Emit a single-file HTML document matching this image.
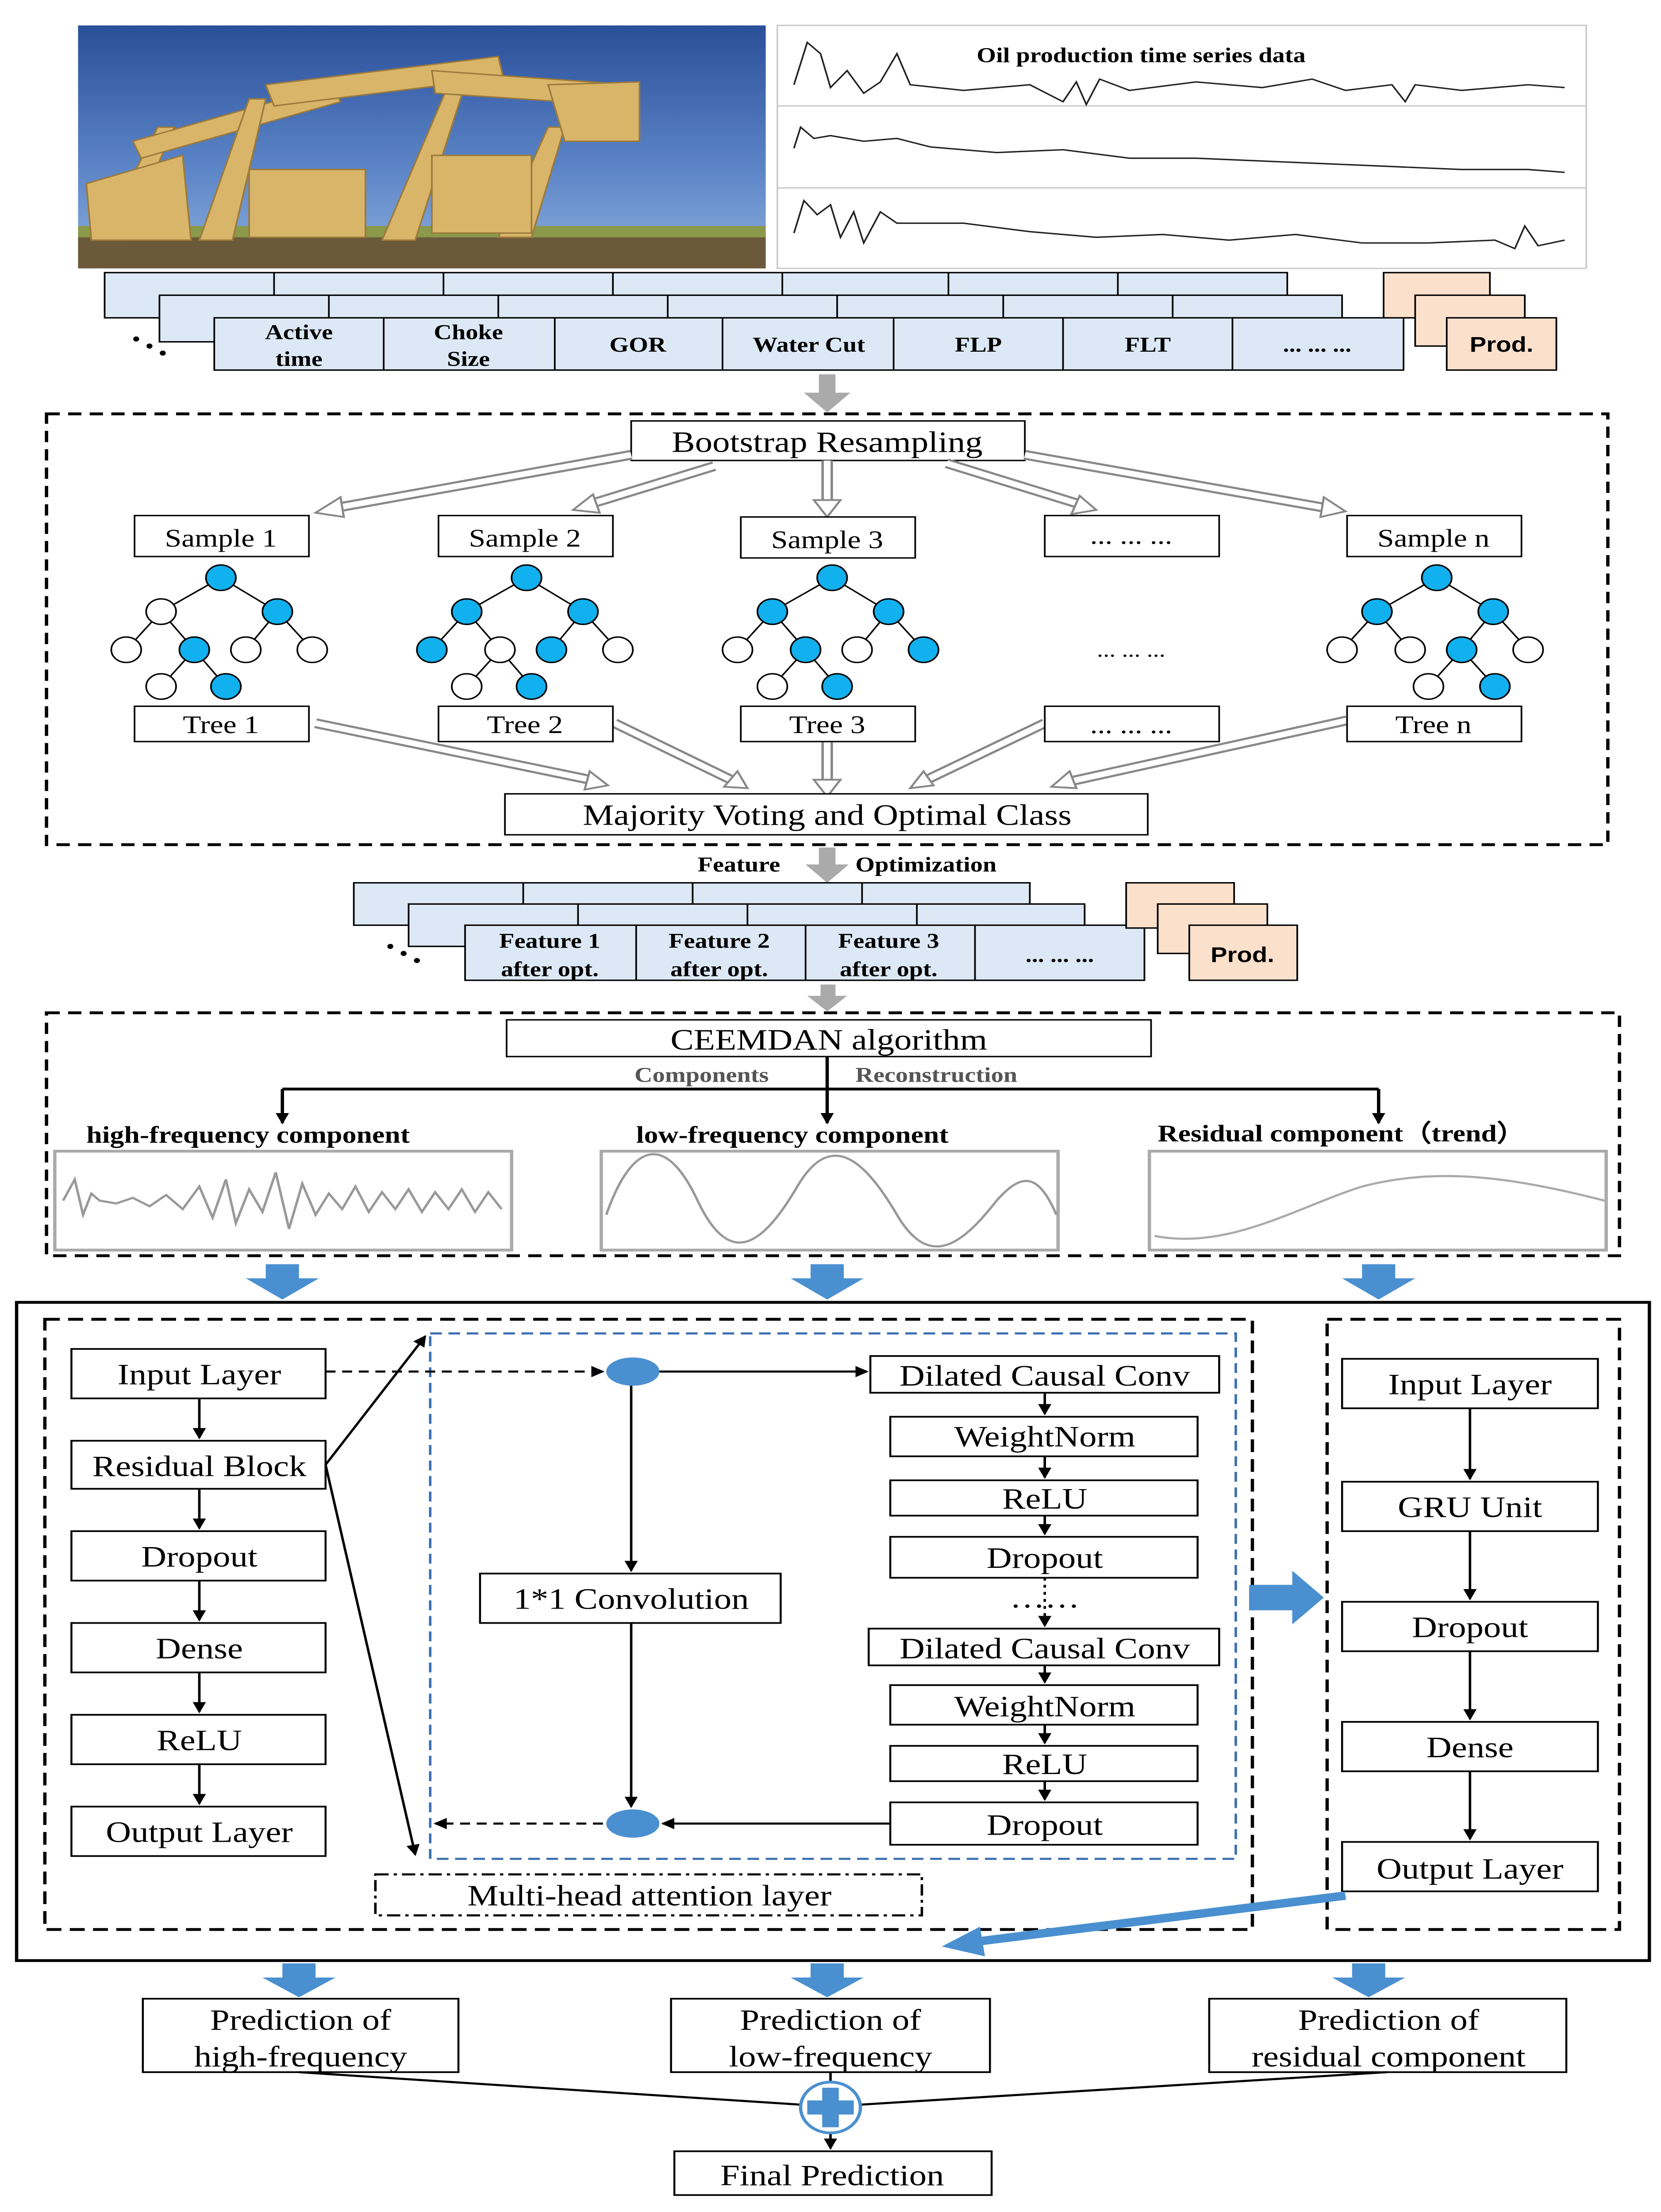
<!DOCTYPE html>
<html><head><meta charset="utf-8"><style>
html,body{margin:0;padding:0;background:#fff;width:100vw;height:100vh;overflow:hidden}
svg{display:block;position:absolute;left:0;top:0;width:100vw;height:100vh}
text{font-family:"Liberation Serif",serif;fill:#000}
.b{font-weight:bold}
</style></head><body>
<svg viewBox="0 0 1000 1566" preserveAspectRatio="none" xmlns="http://www.w3.org/2000/svg">
<defs>
<marker id="ah" markerWidth="8" markerHeight="8" refX="7" refY="4" orient="auto" markerUnits="userSpaceOnUse"><path d="M0,0 L8,4 L0,8 z" fill="#000"/></marker>
<linearGradient id="sky" x1="0" y1="0" x2="0" y2="1"><stop offset="0" stop-color="#2a4f9a"/><stop offset="0.6" stop-color="#5d86c8"/><stop offset="1" stop-color="#8fb0dd"/></linearGradient>
<g id="tree">
<g stroke="#000" stroke-width="1" fill="none"><path d="M0,0 L-36,24 M0,0 L34,24 M-36,24 L-57,51 M-36,24 L-16,51 M34,24 L15,51 M34,24 L55,51 M-16,51 L-36,77 M-16,51 L3,77"/></g>
</g>
<g id="treen">
<g stroke="#000" stroke-width="1" fill="none"><path d="M0,0 L-36,24 M0,0 L34,24 M-36,24 L-57,51 M-36,24 L-16,51 M34,24 L15,51 M34,24 L55,51 M15,51 L-5,77 M15,51 L35,77"/></g>
</g>
</defs>
<rect width="1000" height="1566" fill="#fff"/>

<rect x="47" y="18" width="414" height="172" fill="url(#sky)"/>
<rect x="47" y="165" width="414" height="25" fill="#6b5a3a"/>
<rect x="47" y="160" width="414" height="8" fill="#8a9a4a"/>
<g fill="#d9b56a" stroke="#9c7a3a" stroke-width="1">
<polygon points="60,170 95,90 105,90 75,170"/><polygon points="80,100 200,60 205,72 85,112"/>
<polygon points="120,170 150,70 160,70 140,170"/><polygon points="160,60 300,40 303,55 165,75"/>
<polygon points="230,170 270,60 280,60 250,170"/><polygon points="260,50 380,60 378,75 262,66"/>
<polygon points="300,168 330,90 340,90 320,168"/><polygon points="52,130 110,110 115,170 55,170"/>
<rect x="150" y="120" width="70" height="48"/><rect x="260" y="110" width="60" height="55"/>
<polygon points="330,60 385,58 385,100 340,100"/>
</g>
<rect x="468" y="18" width="487" height="172" fill="#fff" stroke="#ccc"/>
<line x1="468" y1="75" x2="955" y2="75" stroke="#ccc"/><line x1="468" y1="133" x2="955" y2="133" stroke="#ccc"/>
<text x="588" y="44" class="b" font-size="15">Oil production time series data</text>
<polyline fill="none" stroke="#222" stroke-width="1" points="478,60 486,30 494,38 500,62 510,50 520,66 530,58 540,38 548,60 580,64 620,60 640,72 648,58 654,74 662,56 680,64 720,58 760,62 790,56 810,64 838,60 846,72 852,60 880,64 920,60 942,62"/>
<polyline fill="none" stroke="#222" stroke-width="1" points="478,105 482,90 490,98 500,96 520,100 540,98 560,104 600,108 640,106 680,112 720,112 760,114 800,116 840,118 880,120 920,120 942,122"/>
<polyline fill="none" stroke="#222" stroke-width="1" points="478,165 484,142 492,152 500,145 506,168 514,150 520,172 530,150 540,158 580,158 620,164 660,168 700,166 740,170 780,166 820,172 860,172 900,170 912,176 918,160 926,174 942,170"/>

<g fill="#dce8f5" stroke="#000" stroke-width="1">
<rect x="63" y="193" width="712" height="32"/><rect x="96" y="209" width="712" height="33"/><rect x="129" y="225" width="716" height="37"/>
</g>
<g stroke="#000"><line x1="165" y1="193" x2="165" y2="209"/><line x1="267" y1="193" x2="267" y2="209"/><line x1="369" y1="193" x2="369" y2="209"/><line x1="471" y1="193" x2="471" y2="209"/><line x1="571" y1="193" x2="571" y2="209"/><line x1="673" y1="193" x2="673" y2="209"/>
<line x1="198" y1="209" x2="198" y2="225"/><line x1="300" y1="209" x2="300" y2="225"/><line x1="402" y1="209" x2="402" y2="225"/><line x1="504" y1="209" x2="504" y2="225"/><line x1="604" y1="209" x2="604" y2="225"/><line x1="706" y1="209" x2="706" y2="225"/>
<line x1="231" y1="225" x2="231" y2="262"/><line x1="334" y1="225" x2="334" y2="262"/><line x1="435" y1="225" x2="435" y2="262"/><line x1="538" y1="225" x2="538" y2="262"/><line x1="640" y1="225" x2="640" y2="262"/><line x1="742" y1="225" x2="742" y2="262"/></g>
<g class="b" font-size="15" text-anchor="middle">
<text x="180" y="240" class="b">Active</text><text x="180" y="259" class="b">time</text>
<text x="282" y="240" class="b">Choke</text><text x="282" y="259" class="b">Size</text>
<text x="384" y="249" class="b">GOR</text><text x="487" y="249" class="b">Water Cut</text>
<text x="589" y="249" class="b">FLP</text><text x="691" y="249" class="b">FLT</text><text x="793" y="249" class="b">... ... ...</text>
</g>
<g fill="#fbe0cc" stroke="#000"><rect x="833" y="193" width="64" height="32"/><rect x="852" y="209" width="66" height="36"/><rect x="871" y="225" width="66" height="37"/></g>
<text x="904" y="249" font-size="15" text-anchor="middle" style="font-family:'Liberation Sans',sans-serif;font-weight:bold">Prod.</text>
<g fill="#000"><circle cx="82" cy="240" r="1.8"/><circle cx="90" cy="245" r="1.8"/><circle cx="98" cy="250" r="1.8"/></g>

<polygon points="493,265 503,265 503,278 512,278 498,292 484,278 493,278" fill="#aaa"/>

<rect x="28" y="293" width="940" height="305" fill="none" stroke="#000" stroke-width="2" stroke-dasharray="8,5"/>
<rect x="380" y="298" width="237" height="28" fill="#fff" stroke="#000"/>
<text x="498" y="320" font-size="21" text-anchor="middle">Bootstrap Resampling</text>
<g fill="none" stroke-linecap="butt">
<g stroke="#888" stroke-width="7"><path d="M380,322 L200,360"/><path d="M430,330 L355,357"/><path d="M498,326 L498,355"/><path d="M570,328 L650,357"/><path d="M617,322 L800,360"/>
<path d="M190,512 L355,552"/><path d="M370,512 L440,552"/><path d="M498,525 L498,552"/><path d="M629,512 L558,552"/><path d="M811,510 L645,553"/></g>
<g stroke="#fff" stroke-width="4"><path d="M380,322 L200,360"/><path d="M430,330 L355,357"/><path d="M498,326 L498,355"/><path d="M570,328 L650,357"/><path d="M617,322 L800,360"/>
<path d="M190,512 L355,552"/><path d="M370,512 L440,552"/><path d="M498,525 L498,552"/><path d="M629,512 L558,552"/><path d="M811,510 L645,553"/></g>
</g>
<g fill="#fff" stroke="#888" stroke-width="1.3">
<polygon points="190,363 205,352 207,366"/><polygon points="345,361 357,350 361,363"/><polygon points="490,354 506,354 498,366"/><polygon points="660,361 645,364 650,351"/><polygon points="810,362 795,366 797,352"/>
<polygon points="366,556 352,559 355,546"/><polygon points="450,558 436,557 444,546"/><polygon points="490,552 506,552 498,564"/><polygon points="548,558 556,546 562,556"/><polygon points="633,557 644,546 648,558"/>
</g>
<g fill="#fff" stroke="#000">
<rect x="81" y="365" width="105" height="29"/><rect x="264" y="365" width="105" height="29"/><rect x="446" y="366" width="105" height="29"/><rect x="629" y="365" width="105" height="29"/><rect x="811" y="365" width="105" height="29"/>
<rect x="81" y="500" width="105" height="25"/><rect x="264" y="500" width="105" height="25"/><rect x="446" y="500" width="105" height="25"/><rect x="629" y="500" width="105" height="25"/><rect x="811" y="500" width="105" height="25"/>
</g>
<g font-size="18" text-anchor="middle">
<text x="133" y="387">Sample 1</text><text x="316" y="387">Sample 2</text><text x="498" y="388">Sample 3</text><text x="681" y="385">... ... ...</text><text x="863" y="387">Sample n</text>
<text x="133" y="519">Tree 1</text><text x="316" y="519">Tree 2</text><text x="498" y="519">Tree 3</text><text x="681" y="519">... ... ...</text><text x="863" y="519">Tree n</text>
<text x="681" y="465" font-size="15">... ... ...</text>
</g>
<g transform="translate(133,409)"><use href="#tree"/><g stroke="#000"><circle r="9" fill="#11b0ee"/><circle cx="-36" cy="24" r="9" fill="#fff"/><circle cx="34" cy="24" r="9" fill="#11b0ee"/><circle cx="-57" cy="51" r="9" fill="#fff"/><circle cx="-16" cy="51" r="9" fill="#11b0ee"/><circle cx="15" cy="51" r="9" fill="#fff"/><circle cx="55" cy="51" r="9" fill="#fff"/><circle cx="-36" cy="77" r="9" fill="#fff"/><circle cx="3" cy="77" r="9" fill="#11b0ee"/></g></g>
<g transform="translate(317,409)"><use href="#tree"/><g stroke="#000"><circle r="9" fill="#11b0ee"/><circle cx="-36" cy="24" r="9" fill="#11b0ee"/><circle cx="34" cy="24" r="9" fill="#11b0ee"/><circle cx="-57" cy="51" r="9" fill="#11b0ee"/><circle cx="-16" cy="51" r="9" fill="#fff"/><circle cx="15" cy="51" r="9" fill="#11b0ee"/><circle cx="55" cy="51" r="9" fill="#fff"/><circle cx="-36" cy="77" r="9" fill="#fff"/><circle cx="3" cy="77" r="9" fill="#11b0ee"/></g></g>
<g transform="translate(501,409)"><use href="#tree"/><g stroke="#000"><circle r="9" fill="#11b0ee"/><circle cx="-36" cy="24" r="9" fill="#11b0ee"/><circle cx="34" cy="24" r="9" fill="#11b0ee"/><circle cx="-57" cy="51" r="9" fill="#fff"/><circle cx="-16" cy="51" r="9" fill="#11b0ee"/><circle cx="15" cy="51" r="9" fill="#fff"/><circle cx="55" cy="51" r="9" fill="#11b0ee"/><circle cx="-36" cy="77" r="9" fill="#fff"/><circle cx="3" cy="77" r="9" fill="#11b0ee"/></g></g>
<g transform="translate(865,409)"><use href="#treen"/><g stroke="#000"><circle r="9" fill="#11b0ee"/><circle cx="-36" cy="24" r="9" fill="#11b0ee"/><circle cx="34" cy="24" r="9" fill="#11b0ee"/><circle cx="-57" cy="51" r="9" fill="#fff"/><circle cx="-16" cy="51" r="9" fill="#fff"/><circle cx="15" cy="51" r="9" fill="#11b0ee"/><circle cx="55" cy="51" r="9" fill="#fff"/><circle cx="-5" cy="77" r="9" fill="#fff"/><circle cx="35" cy="77" r="9" fill="#11b0ee"/></g></g>
<rect x="304" y="562" width="387" height="29" fill="#fff" stroke="#000"/>
<text x="498" y="584" font-size="21" text-anchor="middle">Majority Voting and Optimal Class</text>

<text x="420" y="617" font-size="15" class="b">Feature</text>
<text x="515" y="617" font-size="15" class="b">Optimization</text>
<polygon points="493,600 503,600 503,612 511,612 498,625 485,612 493,612" fill="#aaa"/>
<g fill="#dce8f5" stroke="#000"><rect x="213" y="625" width="407" height="30"/><rect x="246" y="640" width="407" height="30"/><rect x="280" y="655" width="409" height="39"/></g>
<g stroke="#000"><line x1="315" y1="625" x2="315" y2="640"/><line x1="417" y1="625" x2="417" y2="640"/><line x1="519" y1="625" x2="519" y2="640"/>
<line x1="348" y1="640" x2="348" y2="655"/><line x1="450" y1="640" x2="450" y2="655"/><line x1="552" y1="640" x2="552" y2="655"/>
<line x1="383" y1="655" x2="383" y2="694"/><line x1="485" y1="655" x2="485" y2="694"/><line x1="587" y1="655" x2="587" y2="694"/></g>
<g font-size="15" text-anchor="middle">
<text x="331" y="671" class="b">Feature 1</text><text x="331" y="691" class="b">after opt.</text>
<text x="433" y="671" class="b">Feature 2</text><text x="433" y="691" class="b">after opt.</text>
<text x="535" y="671" class="b">Feature 3</text><text x="535" y="691" class="b">after opt.</text>
<text x="638" y="681" class="b">... ... ...</text></g>
<g fill="#fbe0cc" stroke="#000"><rect x="678" y="625" width="65" height="32"/><rect x="697" y="640" width="66" height="35"/><rect x="716" y="655" width="65" height="39"/></g>
<text x="748" y="681" font-size="15" text-anchor="middle" style="font-family:'Liberation Sans',sans-serif;font-weight:bold">Prod.</text>
<g fill="#000"><circle cx="235" cy="670" r="1.8"/><circle cx="243" cy="675" r="1.8"/><circle cx="251" cy="680" r="1.8"/></g>
<polygon points="494,697 503,697 503,705 510,705 498,716 486,705 494,705" fill="#aaa"/>

<rect x="28" y="717" width="947" height="172" fill="none" stroke="#000" stroke-width="2" stroke-dasharray="8,5"/>
<rect x="305" y="722" width="388" height="26" fill="#fff" stroke="#000"/>
<text x="499" y="743" font-size="21" text-anchor="middle">CEEMDAN algorithm</text>
<text x="382" y="766" font-size="15" class="b" style="fill:#555">Components</text>
<text x="515" y="766" font-size="15" class="b" style="fill:#555">Reconstruction</text>
<g stroke="#000" stroke-width="2" fill="none"><line x1="498" y1="748" x2="498" y2="770"/><line x1="170" y1="771" x2="830" y2="771"/>
<line x1="170" y1="771" x2="170" y2="795" marker-end="url(#ah)"/><line x1="498" y1="771" x2="498" y2="795" marker-end="url(#ah)"/><line x1="830" y1="771" x2="830" y2="795" marker-end="url(#ah)"/></g>
<g font-size="17" class="b"><text x="52" y="809" class="b">high-frequency component</text><text x="383" y="809" class="b">low-frequency component</text><text x="697" y="808" class="b">Residual component（trend）</text></g>
<g fill="#fff" stroke="#aaa" stroke-width="2"><rect x="33" y="815" width="275" height="70"/><rect x="362" y="815" width="275" height="70"/><rect x="692" y="815" width="275" height="70"/></g>
<polyline fill="none" stroke="#999" stroke-width="1.5" points="38,850 45,835 50,860 55,845 60,850 70,852 80,848 90,854 100,846 110,856 120,840 128,862 136,835 142,866 150,842 158,858 166,830 174,870 182,838 190,860 198,845 206,856 214,840 222,858 230,844 238,856 246,842 254,858 262,844 270,856 278,842 286,858 294,844 302,856"/>
<path d="M365,860 C380,810 400,800 420,850 C440,900 460,880 480,840 C500,800 520,820 540,860 C560,900 580,880 600,850 C615,830 625,830 636,860" fill="none" stroke="#999" stroke-width="1.5"/>
<path d="M695,875 C740,885 780,855 820,840 C860,828 900,830 966,850" fill="none" stroke="#aaa" stroke-width="1.5"/>

<g fill="#4a90d0"><polygon points="160,895 180,895 180,905 192,905 170,920 148,905 160,905"/><polygon points="488,895 508,895 508,905 520,905 498,920 476,905 488,905"/><polygon points="820,895 840,895 840,905 852,905 830,920 808,905 820,905"/></g>

<rect x="10" y="922" width="983" height="466" fill="none" stroke="#000" stroke-width="2"/>
<rect x="27" y="934" width="727" height="432" fill="none" stroke="#000" stroke-width="2" stroke-dasharray="9,5"/>
<rect x="259" y="944" width="485" height="372" fill="none" stroke="#3b6fb0" stroke-width="1.5" stroke-dasharray="7,4"/>
<rect x="799" y="934" width="176" height="432" fill="none" stroke="#000" stroke-width="2" stroke-dasharray="9,5"/>
<g fill="#fff" stroke="#000" stroke-width="1.2">
<rect x="43" y="955" width="153" height="35"/><rect x="43" y="1020" width="153" height="34"/><rect x="43" y="1084" width="153" height="35"/><rect x="43" y="1149" width="153" height="35"/><rect x="43" y="1214" width="153" height="35"/><rect x="43" y="1279" width="153" height="35"/>
<rect x="524" y="960" width="210" height="26"/><rect x="536" y="1003" width="185" height="28"/><rect x="536" y="1048" width="185" height="25"/><rect x="536" y="1088" width="185" height="29"/>
<rect x="523" y="1153" width="211" height="26"/><rect x="536" y="1193" width="185" height="28"/><rect x="536" y="1236" width="185" height="25"/><rect x="536" y="1276" width="185" height="30"/>
<rect x="289" y="1114" width="181" height="35"/>
<rect x="808" y="962" width="154" height="35"/><rect x="808" y="1049" width="154" height="35"/><rect x="808" y="1134" width="154" height="35"/><rect x="808" y="1219" width="154" height="35"/><rect x="808" y="1304" width="154" height="35"/>
</g>
<rect x="226" y="1327" width="329" height="29" fill="none" stroke="#000" stroke-width="1.5" stroke-dasharray="8,3,2,3"/>
<g font-size="21" text-anchor="middle">
<text x="120" y="980">Input Layer</text><text x="120" y="1045">Residual Block</text><text x="120" y="1109">Dropout</text><text x="120" y="1174">Dense</text><text x="120" y="1239">ReLU</text><text x="120" y="1304">Output Layer</text>
<text x="629" y="981">Dilated Causal Conv</text><text x="629" y="1024">WeightNorm</text><text x="629" y="1068">ReLU</text><text x="629" y="1110">Dropout</text>
<text x="629" y="1138">……</text>
<text x="629" y="1174">Dilated Causal Conv</text><text x="629" y="1215">WeightNorm</text><text x="629" y="1256">ReLU</text><text x="629" y="1299">Dropout</text>
<text x="380" y="1139">1*1 Convolution</text>
<text x="391" y="1349">Multi-head attention layer</text>
<text x="885" y="987">Input Layer</text><text x="885" y="1074">GRU Unit</text><text x="885" y="1159">Dropout</text><text x="885" y="1244">Dense</text><text x="885" y="1330">Output Layer</text>
</g>
<g stroke="#000" stroke-width="1.5" fill="none">
<line x1="120" y1="990" x2="120" y2="1018" marker-end="url(#ah)"/><line x1="120" y1="1054" x2="120" y2="1082" marker-end="url(#ah)"/><line x1="120" y1="1119" x2="120" y2="1147" marker-end="url(#ah)"/><line x1="120" y1="1184" x2="120" y2="1212" marker-end="url(#ah)"/><line x1="120" y1="1249" x2="120" y2="1277" marker-end="url(#ah)"/>
<line x1="629" y1="986" x2="629" y2="1001" marker-end="url(#ah)"/><line x1="629" y1="1031" x2="629" y2="1046" marker-end="url(#ah)"/><line x1="629" y1="1073" x2="629" y2="1086" marker-end="url(#ah)"/><line x1="629" y1="1117" x2="629" y2="1151" marker-end="url(#ah)" stroke-dasharray="2,3"/>
<line x1="629" y1="1179" x2="629" y2="1191" marker-end="url(#ah)"/><line x1="629" y1="1221" x2="629" y2="1234" marker-end="url(#ah)"/><line x1="629" y1="1261" x2="629" y2="1274" marker-end="url(#ah)"/>
<line x1="397" y1="971" x2="522" y2="971" marker-end="url(#ah)"/>
<line x1="196" y1="971" x2="363" y2="971" marker-end="url(#ah)" stroke-dasharray="6,4"/>
<line x1="380" y1="981" x2="380" y2="1112" marker-end="url(#ah)"/><line x1="380" y1="1149" x2="380" y2="1279" marker-end="url(#ah)"/>
<line x1="536" y1="1291" x2="399" y2="1291" marker-end="url(#ah)"/>
<line x1="363" y1="1291" x2="262" y2="1291" marker-end="url(#ah)" stroke-dasharray="6,4"/>
<line x1="196" y1="1037" x2="256" y2="946" marker-end="url(#ah)"/><line x1="196" y1="1037" x2="250" y2="1313" marker-end="url(#ah)"/>
<line x1="885" y1="997" x2="885" y2="1047" marker-end="url(#ah)"/><line x1="885" y1="1084" x2="885" y2="1132" marker-end="url(#ah)"/><line x1="885" y1="1169" x2="885" y2="1217" marker-end="url(#ah)"/><line x1="885" y1="1254" x2="885" y2="1302" marker-end="url(#ah)"/>
</g>
<g fill="#4a90d0"><ellipse cx="381" cy="971" rx="16" ry="10"/><ellipse cx="381" cy="1291" rx="16" ry="10"/></g>
<polygon points="752,1122 778,1122 778,1112 797,1131 778,1150 778,1140 752,1140" fill="#4a90d0"/>
<line x1="810" y1="1342" x2="585" y2="1375" stroke="#4a90d0" stroke-width="6"/>
<polygon points="567,1378 590,1364 593,1385" fill="#4a90d0"/>

<g fill="#4a90d0"><polygon points="170,1390 190,1390 190,1400 202,1400 180,1414 158,1400 170,1400"/><polygon points="488,1390 508,1390 508,1400 520,1400 498,1414 476,1400 488,1400"/><polygon points="814,1390 834,1390 834,1400 846,1400 824,1414 802,1400 814,1400"/></g>
<g fill="#fff" stroke="#000" stroke-width="1.2"><rect x="86" y="1415" width="190" height="52"/><rect x="404" y="1415" width="192" height="52"/><rect x="728" y="1415" width="215" height="52"/><rect x="406" y="1523" width="191" height="31"/></g>
<g font-size="21" text-anchor="middle">
<text x="181" y="1437">Prediction of</text><text x="181" y="1463">high-frequency</text>
<text x="500" y="1437">Prediction of</text><text x="500" y="1463">low-frequency</text>
<text x="836" y="1437">Prediction of</text><text x="836" y="1463">residual component</text>
<text x="501" y="1547">Final Prediction</text></g>
<g stroke="#000" stroke-width="1.5" fill="none"><line x1="180" y1="1467" x2="482" y2="1490"/><line x1="835" y1="1467" x2="518" y2="1490"/><line x1="500" y1="1467" x2="500" y2="1474"/><line x1="500" y1="1510" x2="500" y2="1521" marker-end="url(#ah)"/></g>
<circle cx="500" cy="1492" r="18" fill="#fff" stroke="#4a90d0" stroke-width="2"/>
<rect x="486" y="1487" width="28" height="10" fill="#4a90d0"/><rect x="495" y="1478" width="10" height="28" fill="#4a90d0"/>
</svg>
</body></html>
